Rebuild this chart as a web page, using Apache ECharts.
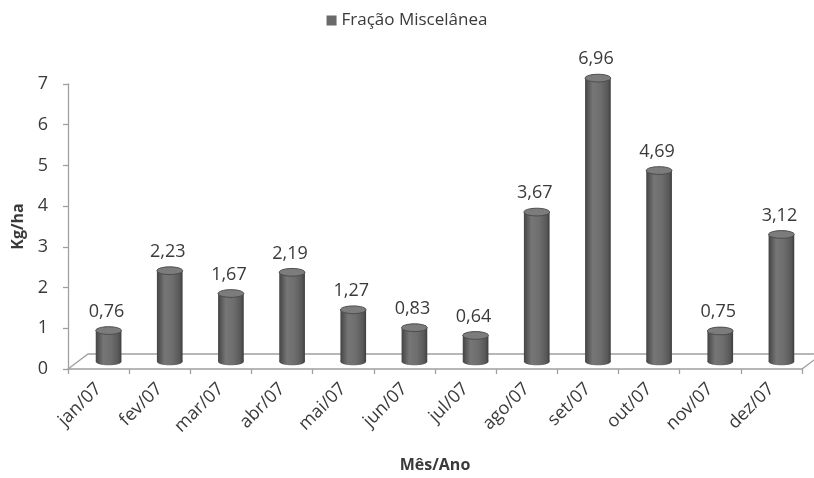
<!DOCTYPE html>
<html>
<head>
<meta charset="utf-8">
<title>Fração Miscelânea</title>
<script src="https://cdn.jsdelivr.net/npm/echarts@6/dist/echarts.min.js"></script>
<style>
  html, body { margin: 0; padding: 0; background: #ffffff; }
  #chart { width: 814px; height: 478px; }
</style>
</head>
<body>
<div id="chart"></div>
<script>
// Monthly mass of the miscellaneous fraction (kg/ha), 2007
const months = ['jan/07', 'fev/07', 'mar/07', 'abr/07', 'mai/07', 'jun/07',
                'jul/07', 'ago/07', 'set/07', 'out/07', 'nov/07', 'dez/07'];
const miscelanea = [0.76, 2.23, 1.67, 2.19, 1.27, 0.83, 0.64, 3.67, 6.96, 4.69, 0.75, 3.12];
const yMin = 0;
const yMax = 7;
const yStep = 1;

const seriesName = 'Fração Miscelânea';
const FONT = '"Open Sans", "DejaVu Sans", sans-serif';
const TEXT = '#3a3a3a';
const AXIS = '#a0a0a0';

// pseudo-3D depth of the floor (px to the right, px upwards)
const DEPTH_X = 20;
const DEPTH_Y = 15;

function fmt(v) {
  return v.toFixed(2).replace('.', ',');
}

// floor plane under the columns, derived from the grid rectangle
function renderFloor(params, api) {
  const cs = params.coordSys;
  const x0 = cs.x, x1 = cs.x + cs.width, yb = cs.y + cs.height;
  return {
    type: 'polygon',
    shape: {
      points: [[x0, yb], [x0 + DEPTH_X, yb - DEPTH_Y], [x1 + DEPTH_X, yb - DEPTH_Y], [x1, yb]]
    },
    style: { fill: '#ffffff', stroke: AXIS, lineWidth: 1.3 },
    silent: true
  };
}

// cylinder column standing at mid-depth of the floor
function renderCylinder(params, api) {
  const idx = api.value(0);
  const val = api.value(1);
  const top = api.coord([idx, val]);
  const base = api.coord([idx, 0]);
  const slot = api.size([1, 0])[0];
  const r = slot * 0.21;
  const ry = r * 0.3;
  const cx = top[0] + DEPTH_X / 2;
  const yt = top[1] - DEPTH_Y / 2;
  const yb = base[1] - DEPTH_Y / 2;
  const body = new echarts.graphic.LinearGradient(0, 0, 1, 0, [
    { offset: 0, color: '#444444' },
    { offset: 0.3, color: '#767676' },
    { offset: 0.6, color: '#6e6e6e' },
    { offset: 0.88, color: '#585858' },
    { offset: 1, color: '#3e3e3e' }
  ]);
  return {
    type: 'group',
    children: [
      { type: 'rect', shape: { x: cx - r, y: yt, width: 2 * r, height: yb - yt }, style: { fill: body } },
      { type: 'ellipse', shape: { cx: cx, cy: yb, rx: r, ry: ry }, style: { fill: body } },
      { type: 'ellipse', shape: { cx: cx, cy: yt, rx: r, ry: ry },
        style: { fill: '#7c7c7c', stroke: '#4c4c4c', lineWidth: 1 } },
      { type: 'text', x: cx - 2, y: yt - ry - 6,
        style: { text: fmt(val), font: '18px ' + FONT, fill: TEXT, align: 'center', verticalAlign: 'bottom' } }
    ]
  };
}

const chart = echarts.init(document.getElementById('chart'), null, { renderer: 'canvas' });

chart.setOption({
  backgroundColor: '#ffffff',
  animation: false,
  legend: {
    data: [seriesName],
    top: 7,
    left: 'center',
    icon: 'rect',
    itemWidth: 10,
    itemHeight: 10,
    itemGap: 6,
    textStyle: { fontFamily: FONT, fontSize: 17, color: TEXT }
  },
  grid: { left: 68, right: 12, top: 84, bottom: 103, containLabel: false },
  xAxis: {
    type: 'category',
    data: months,
    boundaryGap: true,
    name: 'Mês/Ano',
    nameLocation: 'middle',
    nameGap: 88,
    nameTextStyle: { fontFamily: FONT, fontSize: 16, fontWeight: 'bold', color: TEXT },
    axisLine: { show: false },
    axisTick: { show: true, length: 5, lineStyle: { color: AXIS, width: 1.3 } },
    axisLabel: { rotate: 45, margin: 17, fontFamily: FONT, fontSize: 18, color: TEXT }
  },
  yAxis: {
    type: 'value',
    min: yMin,
    max: yMax,
    interval: yStep,
    name: 'Kg/ha',
    nameLocation: 'middle',
    nameRotate: 90,
    nameGap: 42,
    nameTextStyle: { fontFamily: FONT, fontSize: 16, fontWeight: 'bold', color: TEXT },
    axisLine: { show: true, lineStyle: { color: AXIS, width: 1.3 } },
    axisTick: { show: true, length: 5, lineStyle: { color: AXIS, width: 1.3 } },
    axisLabel: { margin: 20, fontFamily: FONT, fontSize: 18, color: TEXT },
    splitLine: { show: false }
  },
  series: [
    {
      name: 'floor',
      type: 'custom',
      renderItem: renderFloor,
      data: [[0, 0]],
      z: 1,
      silent: true,
      tooltip: { show: false }
    },
    {
      name: seriesName,
      type: 'custom',
      renderItem: renderCylinder,
      itemStyle: { color: '#6a6a6a' },
      encode: { x: 0, y: 1 },
      data: miscelanea.map((v, i) => [i, v]),
      z: 2
    }
  ]
});
</script>
</body>
</html>
